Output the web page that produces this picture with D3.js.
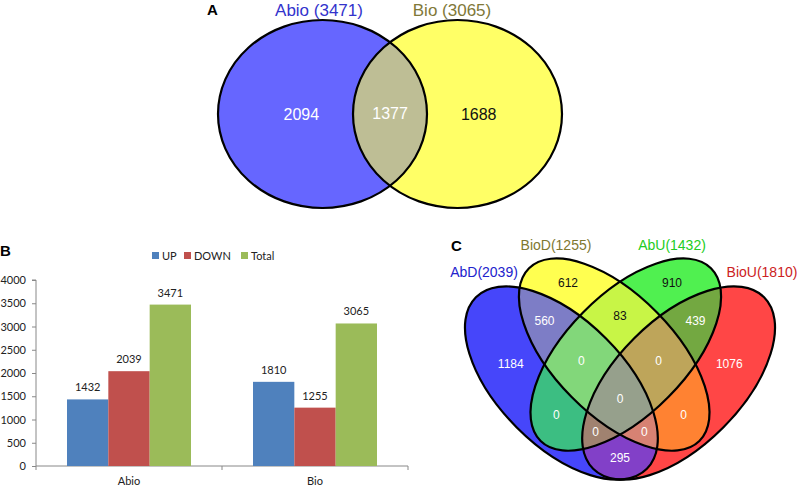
<!DOCTYPE html>
<html>
<head>
<meta charset="utf-8">
<script src="https://cdn.jsdelivr.net/npm/d3@7"></script>
<style>
  html, body { margin: 0; padding: 0; background: #fff; }
  svg { display: block; }
</style>
</head>
<body>
<svg id="chart" width="797" height="486"></svg>
<script>
// ---------------- DATA ----------------
// Panel A: two-set Venn
const vennASets = ["Abio", "Bio"];
const vennATotals = [3471, 3065];
const vennARegionKeys = ["10", "11", "01"];
const vennARegionCounts = [2094, 1377, 1688];

// Panel B: grouped bars
const barCategories = ["Abio", "Bio"];
const barSeries = ["UP", "DOWN", "Total"];
const upValues = [1432, 1810];
const downValues = [2039, 1255];
const totalValues = [3471, 3065];
const yTickValues = [0, 500, 1000, 1500, 2000, 2500, 3000, 3500, 4000];

// Panel C: four-set Venn  (order: AbD, BioD, AbU, BioU)
const vennCSets = ["AbD", "BioD", "AbU", "BioU"];
const vennCSizes = [2039, 1255, 1432, 1810];
const vennCRegionKeys = ["1000", "0100", "0010", "0001", "1100", "0110", "0011", "1010", "0101", "1001", "1110", "0111", "1011", "1101", "1111"];
const vennCRegionCounts = [1184, 612, 910, 1076, 560, 83, 439, 0, 0, 295, 0, 0, 0, 0, 0];

// ---------------- STYLE / LAYOUT ----------------
const ARIAL = "'Liberation Sans', Arial, sans-serif";
const CALIBRI = "Lato, 'Open Sans', sans-serif";
const svg = d3.select("#chart");
const defs = svg.append("defs");

function inside(e, x, y) {
  const dx = x - e.cx, dy = y - e.cy;
  const t = e.angle * Math.PI / 180;
  const u = dx * Math.cos(t) + dy * Math.sin(t);
  const v = -dx * Math.sin(t) + dy * Math.cos(t);
  return (u * u) / (e.rx * e.rx) + (v * v) / (e.ry * e.ry) <= 1;
}
function regionCentroid(ells, key, box) {
  let sx = 0, sy = 0, n = 0;
  for (let x = box[0]; x <= box[2]; x += 1.5) {
    for (let y = box[1]; y <= box[3]; y += 1.5) {
      let ok = true;
      for (let i = 0; i < ells.length; i++) {
        if (inside(ells[i], x, y) !== (key[i] === "1")) { ok = false; break; }
      }
      if (ok) { sx += x; sy += y; n++; }
    }
  }
  return n ? [sx / n, sy / n] : [0, 0];
}

function drawVenn(prefix, ells, keys, counts, colors, textColors, fontSize, box) {
  const g = svg.append("g");
  ells.forEach((e, i) => {
    defs.append("clipPath").attr("id", `${prefix}-clip-${i}`)
      .append("ellipse")
      .attr("cx", 0).attr("cy", 0).attr("rx", e.rx).attr("ry", e.ry)
      .attr("transform", `translate(${e.cx},${e.cy}) rotate(${e.angle})`);
  });
  keys.forEach((key, r) => {
    const inIdx = [], outIdx = [];
    key.split("").forEach((c, i) => (c === "1" ? inIdx : outIdx).push(i));
    const mask = defs.append("mask").attr("id", `${prefix}-mask-${r}`)
      .attr("maskUnits", "userSpaceOnUse").attr("x", 0).attr("y", 0).attr("width", 797).attr("height", 486);
    mask.append("rect").attr("x", 0).attr("y", 0).attr("width", 797).attr("height", 486).attr("fill", "#fff");
    outIdx.forEach(i => {
      const e = ells[i];
      mask.append("ellipse").attr("cx", 0).attr("cy", 0).attr("rx", e.rx).attr("ry", e.ry)
        .attr("transform", `translate(${e.cx},${e.cy}) rotate(${e.angle})`).attr("fill", "#000");
    });
    let parent = g;
    inIdx.forEach(i => { parent = parent.append("g").attr("clip-path", `url(#${prefix}-clip-${i})`); });
    parent.append("rect").attr("x", box[0]).attr("y", box[1])
      .attr("width", box[2] - box[0]).attr("height", box[3] - box[1])
      .attr("fill", colors[key]).attr("mask", `url(#${prefix}-mask-${r})`);
  });
  g.selectAll("ellipse.outline").data(ells).join("ellipse")
    .attr("class", "outline")
    .attr("cx", 0).attr("cy", 0).attr("rx", d => d.rx).attr("ry", d => d.ry)
    .attr("transform", d => `translate(${d.cx},${d.cy}) rotate(${d.angle})`)
    .attr("fill", "none").attr("stroke", "#000").attr("stroke-width", 2.2);
  keys.forEach((key, r) => {
    const c = regionCentroid(ells, key, box);
    g.append("text").attr("x", c[0]).attr("y", c[1])
      .attr("text-anchor", "middle").attr("dominant-baseline", "central")
      .attr("font-family", ARIAL).attr("font-size", fontSize)
      .attr("fill", textColors[key] || "#fff")
      .text(counts[r]);
  });
}

// ---------------- PANEL A ----------------
const ellA = [
  { cx: 322.5, cy: 114, rx: 104.5, ry: 94, angle: 0 },
  { cx: 457.5, cy: 114, rx: 104.5, ry: 94, angle: 0 }
];
drawVenn("a", ellA, vennARegionKeys, vennARegionCounts,
  { "10": "#6666FF", "11": "#BEBE95", "01": "#FFFF66" },
  { "10": "#fff", "11": "#fff", "01": "#111" }, 16, [200, 14, 570, 215]);

svg.append("text").attr("x", 207).attr("y", 15).attr("font-family", ARIAL)
  .attr("font-weight", "bold").attr("font-size", 15).text("A");
const titleColorsA = ["#3333CC", "#807838"];
const titleXA = [319, 452];
vennASets.forEach((s, i) => {
  svg.append("text").attr("x", titleXA[i]).attr("y", 16).attr("text-anchor", "middle")
    .attr("font-family", ARIAL).attr("font-size", 17).attr("fill", titleColorsA[i])
    .text(`${s} (${vennATotals[i]})`);
});

// ---------------- PANEL B ----------------
const seriesValues = { UP: upValues, DOWN: downValues, Total: totalValues };
const seriesColors = { UP: "#4F81BD", DOWN: "#C0504D", Total: "#9BBB59" };
const plot = { left: 36, right: 408, top: 280, bottom: 466 };

const x0 = d3.scaleBand().domain(barCategories).range([plot.left, plot.right]).padding(0);
const x1 = d3.scaleBand().domain(barSeries).range([0, x0.bandwidth()]).paddingInner(0).paddingOuter(0.75);
const y = d3.scaleLinear().domain([0, 4000]).range([plot.bottom, plot.top]);

const gb = svg.append("g");
const yAxis = gb.append("g").attr("transform", `translate(${plot.left},0)`)
  .call(d3.axisLeft(y).tickValues(yTickValues).tickSize(4).tickPadding(6).tickFormat(d3.format("d")));
yAxis.select(".domain").attr("stroke", "#888").attr("d", `M-4,${y(4000)}H0V${y(0)}`);
yAxis.selectAll(".tick line").attr("stroke", "#888");
yAxis.selectAll(".tick text").attr("font-family", CALIBRI).attr("font-size", 11).attr("fill", "#222");

const xAxis = gb.append("g").attr("transform", `translate(0,${plot.bottom})`);
xAxis.append("line").attr("x1", plot.left).attr("x2", plot.right).attr("stroke", "#888");
const boundaries = [plot.left, ...barCategories.map(c => x0(c) + x0.bandwidth())];
xAxis.selectAll("line.tk").data(boundaries).join("line").attr("class", "tk")
  .attr("x1", d => d).attr("x2", d => d).attr("y1", 0).attr("y2", 4).attr("stroke", "#888");
xAxis.selectAll("text").data(barCategories).join("text")
  .attr("x", d => x0(d) + x0.bandwidth() / 2).attr("y", 19)
  .attr("text-anchor", "middle").attr("font-family", CALIBRI).attr("font-size", 11).attr("fill", "#222")
  .text(d => d);

const barData = [];
barCategories.forEach((c, ci) => barSeries.forEach(s => barData.push({ c, s, v: seriesValues[s][ci] })));
gb.selectAll("rect.bar").data(barData).join("rect").attr("class", "bar")
  .attr("x", d => x0(d.c) + x1(d.s)).attr("width", x1.bandwidth())
  .attr("y", d => y(d.v)).attr("height", d => y(0) - y(d.v))
  .attr("fill", d => seriesColors[d.s]);
gb.selectAll("text.val").data(barData).join("text").attr("class", "val")
  .attr("x", d => x0(d.c) + x1(d.s) + x1.bandwidth() / 2).attr("y", d => y(d.v) - 8)
  .attr("text-anchor", "middle").attr("font-family", CALIBRI).attr("font-size", 11).attr("fill", "#222")
  .text(d => d.v);

const legendX = { UP: 152, DOWN: 184, Total: 241 };
const lg = gb.append("g");
barSeries.forEach(s => {
  lg.append("rect").attr("x", legendX[s]).attr("y", 252).attr("width", 7).attr("height", 7).attr("fill", seriesColors[s]);
  lg.append("text").attr("x", legendX[s] + 10).attr("y", 259.5).attr("font-family", CALIBRI)
    .attr("font-size", 11).attr("fill", "#222").text(s);
});
svg.append("text").attr("x", 0).attr("y", 256).attr("font-family", ARIAL)
  .attr("font-weight", "bold").attr("font-size", 15).text("B");

// ---------------- PANEL C ----------------
const AXIS_C = 620;
const blueGeom = { cx: 561.4, cy: 383, rx: 121.1, ry: 63, angle: 45.1 };
const yellowGeom = { cx: 614.2, cy: 354.6, rx: 121.3, ry: 60.1, angle: 45.4 };
const mirror = e => ({ cx: 2 * AXIS_C - e.cx, cy: e.cy, rx: e.rx, ry: e.ry, angle: -e.angle });
const ellC = [blueGeom, yellowGeom, mirror(yellowGeom), mirror(blueGeom)];
const colorsC = {
  "1000": "#4646FA", "0100": "#FFFF50", "0010": "#50F050", "0001": "#FF4646",
  "1100": "#7D7DC6", "0110": "#C8F546", "0011": "#73A841", "1010": "#3CBE82",
  "0101": "#FF8232", "1001": "#8240C8", "1110": "#82D77A", "0111": "#BEA55A",
  "1011": "#A08270", "1101": "#D78273", "1111": "#96A08C"
};
const textColorsC = { "0100": "#111", "0110": "#111", "0010": "#111" };
drawVenn("c", ellC, vennCRegionKeys, vennCRegionCounts, colorsC, textColorsC, 12, [440, 250, 797, 486]);

svg.append("text").attr("x", 451).attr("y", 251).attr("font-family", ARIAL)
  .attr("font-weight", "bold").attr("font-size", 15).text("C");
const titleC = [
  { x: 484, y: 277, color: "#2222CC" },
  { x: 556, y: 250, color: "#807830" },
  { x: 672, y: 250, color: "#22CC22" },
  { x: 762, y: 277, color: "#CC2222" }
];
vennCSets.forEach((s, i) => {
  svg.append("text").attr("x", titleC[i].x).attr("y", titleC[i].y).attr("text-anchor", "middle")
    .attr("font-family", ARIAL).attr("font-size", 14).attr("fill", titleC[i].color)
    .text(`${s}(${vennCSizes[i]})`);
});
</script>
</body>
</html>
